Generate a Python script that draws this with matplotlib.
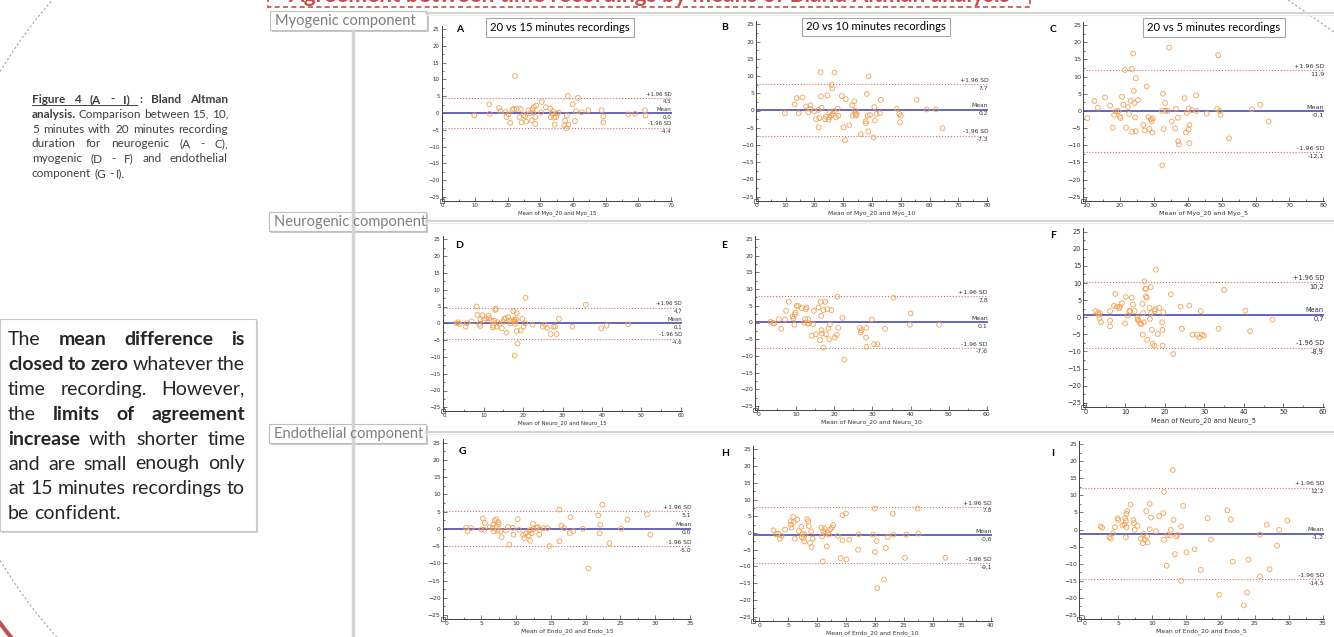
import matplotlib
matplotlib.use("Agg")
import matplotlib.pyplot as plt
from matplotlib import patches, transforms
from matplotlib.ticker import MultipleLocator, AutoMinorLocator

W, H = 1334, 637

# ---- data ----
# A : Myo 20 vs 15
a_x = [9.7, 14.3, 14.4, 17.3, 17.8, 19.3, 19.6, 20.2, 20.7, 21.4, 21.9, 22.2, 22.7, 23.6, 23.9,
       24.2, 24.8, 25.3, 25.6, 26.3, 26.8, 27.3, 27.6, 27.8, 28.0, 28.4, 28.4, 28.7, 30.2, 30.4,
       31.7, 33.0, 33.2, 33.5, 33.8, 34.2, 34.4, 34.8, 35.0, 35.5, 37.3, 37.6, 38.0, 38.1, 38.4,
       38.6, 39.9, 40.6, 40.9, 41.5, 42.7, 44.7, 48.8, 49.3, 49.3, 57.0, 59.1, 62.1, 62.3]
a_y = [-0.7, 2.6, -0.2, 1.5, 0.6, 0.3, -1.2, -0.4, -2.9, 1.0, 1.2, 11.0, 1.2, -1.2, 1.2,
       -2.8, -0.6, -1.0, -2.6, 0.8, 0.0, -2.2, 1.1, 0.2, 1.8, -1.2, -3.2, 2.2, 0.2, 3.3,
       1.7, 1.3, -1.2, -0.2, 0.5, -1.4, -3.5, -1.2, -0.2, 0.1, -3.7, -2.2, -4.5, -0.7, 5.0,
       -3.5, 2.6, -2.4, 0.5, 4.5, 0.2, 0.8, 0.8, -1.0, -2.8, -0.4, -0.2, 0.8, -0.7]
# B : Myo 20 vs 10
b_x = [9.8, 13.2, 13.9, 14.6, 15.9, 17.1, 17.9, 18.5, 18.7, 19.9, 20.6, 21.4, 21.5, 21.7, 22.2,
       22.3, 22.5, 23.7, 24.0, 24.5, 24.9, 25.2, 25.4, 25.8, 26.0, 26.2, 26.4, 26.8, 27.0, 27.5,
       28.1, 28.3, 29.5, 30.1, 30.6, 30.9, 32.1, 33.1, 33.3, 33.9, 34.1, 34.1, 34.5, 34.7, 36.1,
       37.8, 37.9, 38.2, 38.5, 38.7, 38.8, 39.3, 40.5, 40.8, 41.0, 41.6, 42.7, 43.1, 48.6, 49.5,
       49.7, 50.0, 55.5, 59.0, 62.2, 64.5]
b_y = [-0.8, 1.8, 3.6, -0.8, 3.8, 1.2, -0.5, 0.5, 1.5, -0.2, -2.5, 0.2, -4.9, -2.2, 11.1,
       4.1, 0.8, -2.5, -1.8, 4.4, -2.7, -2.0, -0.5, -1.5, 7.4, 6.4, -1.0, -0.2, 11.0, -2.0,
       0.5, -1.5, 4.2, -4.9, -8.6, 3.3, -4.3, 1.5, -1.5, 2.7, 0.0, -0.8, -1.5, -1.0, -6.9,
       -3.1, -3.7, 4.8, -1.5, -6.1, 9.9, -1.3, -7.8, 1.0, -2.9, -1.0, -0.8, 3.1, 0.5, -1.0,
       -3.4, -1.5, 3.1, 0.3, 0.3, -5.1]
# C : Myo 20 vs 5
c_x = [10.4, 12.5, 13.5, 15.6, 17.1, 17.9, 18.3, 18.8, 19.5, 20.0, 20.2, 20.6, 21.0, 21.5, 21.8,
       22.4, 22.7, 23.2, 23.5, 23.6, 23.9, 24.1, 24.3, 24.5, 24.7, 24.7, 25.3, 26.9, 27.3, 27.9,
       28.4, 28.7, 29.1, 29.4, 29.6, 29.7, 32.4, 32.5, 32.7, 32.9, 33.3, 33.5, 34.1, 34.5, 35.3,
       36.3, 36.5, 37.1, 37.2, 37.4, 39.1, 39.7, 39.5, 40.3, 40.3, 40.5, 40.5, 41.2, 42.5, 42.6,
       45.6, 48.7, 49.5, 49.7, 49.0, 52.2, 58.9, 61.4, 63.9]
c_y = [-2.1, 2.9, 0.9, 3.9, 1.5, -4.9, -1.2, -0.1, -0.1, -1.7, -2.1, 4.1, 1.8, 11.9, -4.9,
       1.1, -0.9, 2.9, 12.2, -6.1, 16.7, 5.8, 2.3, -1.9, 9.5, -5.9, 3.1, -4.1, -5.7, 7.1,
       -1.8, -5.3, -2.5, -3.0, -6.3, -2.2, 0.0, -15.9, 5.0, -5.3, 2.3, 0.0, 0.0, 18.4, -3.1,
       -5.1, 0.6, -2.0, -8.9, -9.8, 3.7, -0.6, -6.3, 0.7, -5.4, -4.1, -9.4, 0.2, 4.5, 0.0,
       -0.8, 0.6, 0.0, -1.2, 16.2, -8.0, 0.5, 1.8, -3.1]
# D : Neuro 20 vs 15
d_x = [3.1, 3.5, 3.8, 5.4, 5.7, 6.9, 8.2, 8.4, 8.9, 9.1, 9.2, 9.7, 10.1, 10.6, 11.2,
       11.4, 12.0, 12.3, 12.4, 12.7, 12.9, 13.1, 13.3, 13.5, 14.0, 14.6, 15.0, 15.2, 15.6, 15.8,
       16.2, 16.7, 16.8, 17.5, 17.5, 17.8, 17.9, 18.0, 17.9, 18.2, 18.4, 18.4, 18.6, 19.4, 19.8,
       20.1, 20.5, 20.6, 22.4, 25.0, 25.5, 26.1, 27.0, 27.7, 28.1, 28.5, 29.1, 32.5, 35.9, 39.8,
       41.2, 46.7]
d_y = [0.0, 0.3, -0.2, -1.0, 0.0, 0.6, 5.0, 2.5, -0.2, -0.8, 1.2, 2.4, 1.0, 1.4, 2.3,
       1.5, 0.8, -1.2, -0.7, 0.8, 4.0, 4.3, -1.0, 0.3, -0.2, -1.5, 0.5, 1.3, 1.5, -2.8,
       1.8, 0.8, 0.0, 3.6, 0.8, 1.1, -0.2, 0.5, -9.6, 1.2, 3.0, -2.3, -6.0, -2.1, 1.3,
       -1.0, 0.0, 7.6, -0.4, -1.0, -0.4, -1.4, -3.2, -1.0, -1.0, -3.2, 1.3, -1.0, 5.5, -1.5,
       -0.7, -0.3]
# E : Neuro 20 vs 10
e_x = [3.2, 3.8, 4.1, 5.4, 6.0, 7.0, 7.3, 8.0, 9.0, 9.2, 9.5, 9.6, 9.8, 10.1, 10.5,
       11.4, 12.0, 12.3, 12.5, 12.7, 12.9, 13.1, 13.3, 14.0, 14.4, 14.6, 15.1, 15.8, 16.2, 16.4,
       16.5, 16.6, 16.7, 17.1, 17.1, 17.6, 17.8, 18.1, 18.4, 18.6, 18.8, 19.2, 20.1, 20.6, 20.8,
       21.0, 22.1, 22.6, 26.7, 26.9, 27.1, 28.3, 28.4, 28.4, 29.8, 30.4, 31.3, 33.3, 35.5, 39.8,
       40.0, 47.5]
e_y = [0.2, -0.1, -0.3, 1.0, -1.9, 0.9, 3.5, 6.2, 1.8, 1.2, -0.7, 2.4, 3.0, 5.0, 4.9,
       4.3, -0.1, 1.0, 4.0, 4.5, -0.3, 1.0, -0.3, -4.0, -0.5, 3.5, -3.5, 4.5, -5.3, 6.2,
       2.0, -2.3, -3.3, 3.7, -7.5, 6.2, -3.5, 4.0, -1.8, -5.0, -0.6, 3.7, -4.5, -3.7, 7.7,
       -1.6, 1.4, -11.1, -1.6, -3.0, -2.3, -4.5, -7.3, -1.6, 0.9, -6.5, -6.5, -1.9, 7.4, -0.7,
       2.7, -0.7]
# F : Neuro 20 vs 5
f_x = [2.4, 3.0, 3.3, 3.4, 3.5, 3.8, 6.1, 6.1, 6.1, 7.1, 7.4, 7.9, 8.4, 8.6, 9.1,
       9.9, 10.1, 10.5, 11.0, 11.2, 11.6, 11.9, 12.3, 13.0, 13.1, 13.3, 13.7, 14.0, 14.3, 14.4,
       14.5, 14.7, 14.8, 15.0, 15.2, 15.2, 15.4, 15.5, 16.1, 16.2, 16.4, 16.5, 16.7, 16.9, 17.3,
       17.4, 17.5, 17.7, 18.2, 18.6, 19.3, 19.4, 19.4, 19.6, 21.5, 22.1, 24.0, 24.3, 26.2, 27.0,
       28.2, 28.7, 29.1, 29.5, 29.9, 33.6, 35.0, 40.4, 41.6, 47.3]
f_y = [1.8, 1.2, 0.7, -0.2, 1.2, -1.5, 1.8, -1.0, -2.7, 3.3, 6.8, 3.1, 2.6, 3.1, 4.1,
       -1.8, 5.9, 0.5, 1.8, 1.8, 5.7, 3.7, 1.8, -0.2, -0.7, -1.0, -1.8, -2.0, 3.9, -5.1,
       1.2, -1.5, 10.5, 8.3, 6.1, 8.3, 5.7, -6.6, 2.7, -0.5, 8.8, 1.2, -3.7, -7.8, -8.3,
       1.8, 2.3, 13.9, -4.9, 2.7, -1.5, -3.7, -8.3, 1.5, 6.7, -10.8, 3.1, -3.4, 3.4, -5.1,
       -5.1, -5.9, 1.8, -5.1, -5.4, -3.4, 8.0, 1.9, -4.1, -0.7]
# G : Endo 20 vs 15
g_x = [2.8, 3.0, 3.5, 5.0, 5.2, 5.4, 5.5, 6.2, 6.6, 6.7, 6.8, 6.9, 7.1, 7.2, 7.3,
       7.4, 7.5, 7.7, 7.9, 8.5, 8.8, 9.0, 9.5, 9.6, 10.2, 10.4, 11.0, 11.2, 11.4, 11.8,
       11.9, 12.0, 12.1, 12.2, 12.4, 12.5, 12.9, 13.1, 13.3, 13.4, 13.9, 14.5, 14.8, 16.2, 16.2,
       16.5, 16.9, 17.7, 17.8, 18.2, 19.6, 20.4, 21.8, 22.0, 22.1, 22.4, 23.4, 25.1, 26.0, 28.8,
       29.3]
g_y = [0.3, -0.7, 0.2, -0.2, 3.0, -0.3, 1.7, 0.5, 0.2, 1.3, -0.7, 2.4, 2.8, 0.7, -0.5,
       1.9, 1.3, -0.7, -2.4, -0.5, 0.5, -4.6, 0.3, -1.7, 2.8, -0.3, -1.7, -2.7, -1.3, -1.9,
       -0.5, -3.4, -0.3, -1.3, 1.5, 0.0, 0.3, 0.5, -1.7, -0.2, 0.2, 0.2, -5.0, 5.6, -3.6,
       0.9, 0.2, -1.2, 3.4, -0.7, 0.0, -11.5, 3.9, -1.3, 1.2, 7.0, -4.2, 0.0, 2.7, 4.2,
       -1.7]
# H : Endo 20 vs 10
h_x = [2.5, 3.0, 3.3, 3.6, 3.9, 4.5, 5.5, 5.5, 5.6, 5.9, 6.0, 6.2, 6.6, 6.9, 7.3,
       7.4, 7.5, 7.7, 7.8, 7.9, 8.3, 8.5, 8.6, 8.8, 9.0, 9.1, 9.3, 10.8, 10.9, 11.0,
       11.1, 11.3, 11.4, 11.7, 11.9, 12.1, 12.3, 12.6, 12.8, 13.6, 14.1, 14.4, 14.4, 15.0, 15.1,
       15.6, 17.2, 17.1, 19.7, 20.0, 20.0, 20.3, 20.4, 21.6, 21.9, 22.2, 23.1, 23.2, 25.2, 25.4,
       27.4, 27.5, 32.2]
h_y = [0.8, -0.4, -0.2, -1.7, -0.9, 1.0, 3.5, 2.5, 1.6, 4.8, 3.3, -1.7, 4.0, 0.5, 1.8,
       -1.2, -0.2, -1.5, -2.5, -0.5, 4.1, 3.5, 2.1, -3.0, 0.5, -4.2, -1.7, 1.6, -1.0, -8.5,
       0.5, 1.3, -0.2, -4.0, 0.1, -0.5, 1.1, 1.6, 2.3, -0.9, -7.5, -2.2, 5.3, 5.8, -7.9,
       -2.0, -0.4, -5.0, -0.5, 7.3, -5.7, -2.4, -16.5, -13.9, -4.5, -1.2, 5.8, -0.5, -7.4, -0.5,
       7.3, -0.2, -7.4]
# I : Endo 20 vs 5
i_x = [2.4, 2.6, 3.7, 3.9, 4.2, 4.5, 4.9, 5.0, 5.6, 5.9, 6.0, 6.1, 6.1, 6.2, 6.2,
       6.3, 6.8, 7.2, 7.3, 7.4, 7.8, 8.3, 8.6, 8.7, 8.9, 9.1, 9.2, 9.3, 9.6, 9.6,
       9.8, 10.5, 11.0, 11.6, 11.7, 11.7, 12.1, 12.2, 12.6, 12.7, 13.0, 13.1, 13.3, 13.5, 13.7,
       14.2, 14.2, 14.5, 15.0, 16.2, 17.1, 18.1, 18.6, 19.8, 21.0, 21.5, 21.8, 23.4, 23.9, 24.1,
       25.8, 25.8, 26.8, 27.2, 28.3, 28.6, 29.8]
i_y = [0.9, 0.5, -2.3, -2.7, -1.1, 0.7, 3.3, 2.8, 1.2, 1.5, 3.3, 2.5, -2.3, 4.6, 0.7,
       5.4, 7.3, 2.8, 1.9, -0.1, 1.1, -2.7, -4.0, -1.3, -3.0, 5.4, -2.1, -3.8, 7.5, 0.1,
       3.5, -0.5, 3.9, 4.8, 11.0, -3.0, -10.6, -1.6, -1.8, -0.1, 17.4, 2.8, -7.2, -2.1, -1.6,
       0.9, -15.0, 6.9, -6.7, -5.8, -11.8, 3.3, -2.9, -19.1, 5.6, 2.9, -9.4, -22.2, -18.4, -8.8,
       -1.5, -13.7, 1.4, -11.6, -4.7, -0.1, 2.6]

xs = [a_x, b_x, c_x, d_x, e_x, f_x, g_x, h_x, i_x]
ys = [a_y, b_y, c_y, d_y, e_y, f_y, g_y, h_y, i_y]
# upper limit, mean, lower limit
upper = [4.5, 7.7, 11.9, 4.7, 7.8, 10.2, 5.1, 7.8, 12.2]
means = [0.0, 0.2, -0.1, 0.1, 0.1, 0.7, 0.0, -0.6, -1.2]
lower = [-4.4, -7.3, -12.1, -4.6, -7.6, -8.9, -5.0, -9.1, -14.5]
letters = ["A", "B", "C", "D", "E", "F", "G", "H", "I"]
xlabels = ["Mean of Myo_20 and Myo_15", "Mean of Myo_20 and Myo_10", "Mean of Myo_20 and Myo_5",
           "Mean of Neuro_20 and Neuro_15", "Mean of Neuro_20 and Neuro_10", "Mean of Neuro_20 and Neuro_5",
           "Mean of Endo_20 and Endo_15", "Mean of Endo_20 and Endo_10", "Mean of Endo_20 and Endo_5"]
col_titles = ["20 vs 15 minutes recordings", "20 vs 10 minutes recordings", "20 vs 5 minutes recordings"]
row_titles = ["Myogenic component", "Neurogenic component", "Endothelial component"]
poster_title = "Agreement between time recordings by means of Bland Altman analysis"

caption_lines = [
    [("Figure 4 (A - I) : Bland Altman", "bold")],
    [("analysis.", "bold"), ("Comparison between 15, 10,", "normal")],
    [("5 minutes with 20 minutes recording", "normal")],
    [("duration for neurogenic (A - C),", "normal")],
    [("myogenic (D - F) and endothelial", "normal")],
    [("component (G - I).", "normal")],
]
note_lines = [
    [("The", "normal"), ("mean difference is", "bold")],
    [("closed to zero", "bold"), ("whatever the", "normal")],
    [("time recording. However,", "normal")],
    [("the", "normal"), ("limits of agreement", "bold")],
    [("increase", "bold"), ("with shorter time", "normal")],
    [("and are small enough only", "normal")],
    [("at 15 minutes recordings to", "normal")],
    [("be confident.", "normal")],
]

# ---- layout (pixel positions from the top-left corner) ----
# spine x, (tick value, px), (tick value, px), px of +25, px of -25, x max, x step, font size
layout = [
    (441.7, (0, 442.7), (70, 670.7), 29.0, 197.0, 70.3, 10, 3.9),
    (756.0, (0, 756.7), (80, 987.3), 24.3, 196.7, 80.3, 10, 4.3),
    (1083.3, (10, 1086.0), (80, 1323.3), 25.0, 196.7, 80.3, 10, 4.6),
    (442.7, (0, 444.3), (60, 680.7), 239.3, 407.3, 60.3, 10, 3.9),
    (755.0, (0, 758.3), (60, 986.7), 239.0, 406.0, 60.3, 10, 4.4),
    (1083.3, (0, 1086.0), (60, 1322.7), 231.7, 402.7, 60.3, 10, 4.8),
    (442.7, (0, 446.7), (35, 690.0), 442.7, 615.0, 35.2, 5, 4.3),
    (753.3, (0, 759.0), (40, 990.7), 449.3, 616.7, 40.2, 5, 4.3),
    (1079.3, (0, 1084.3), (35, 1322.7), 444.0, 615.0, 35.2, 5, 4.4),
]
letter_pos = [(460, 30), (725, 28), (1053, 30), (459, 245), (724, 246), (1053, 236),
              (462, 451), (725, 453), (1053, 453)]
col_title_pos = [(560, 27.5), (876, 27), (1214, 27.5)]
row_box = [(270, 11, 427, 30), (269, 212, 426, 231), (269, 424, 426, 443)]

RED = "#c0504d"
fig = plt.figure(figsize=(W / 100, H / 100), dpi=100)
px = transforms.Affine2D().scale(1 / W, -1 / H).translate(0, 1) + fig.transFigure

# decorations behind everything
fig.add_artist(patches.Arc((411, 316), 956, 956, theta1=125, theta2=235, transform=px,
                           color="#a0a0a0", lw=0.8, ls=(0, (2, 2))))
fig.add_artist(patches.Arc((420, 300), 1060, 1060, theta1=140, theta2=160, transform=px,
                           color=RED, lw=3))
fig.add_artist(plt.Line2D([1288, 1334], [0, 32], transform=px, color="#a0a0a0",
                          lw=0.8, ls=(0, (2, 2))))
fig.add_artist(patches.Rectangle((268, -30), 762, 37, transform=px, fill=False,
                                 edgecolor=RED, lw=1.2, ls=(0, (3, 2))))
# the poster title is cut by the top edge, as in the source picture
fig.text(649, 1.5, poster_title, transform=px, ha="center", va="baseline", fontsize=16.3,
         fontweight="bold", color=RED, family="Lato")

# row separators and vertical rule
for yy in [13, 221, 432]:
    fig.add_artist(plt.Line2D([426, W], [yy, yy], transform=px, color="#d4d4d4", lw=1.5))
    fig.add_artist(plt.Line2D([426, W], [yy + 2, yy + 2], transform=px, color="#ececec", lw=0.8))
fig.add_artist(plt.Line2D([352.5, 352.5], [31, H], transform=px, color="#d4d4d4", lw=2.5))

for (l, t, r, b), name in zip(row_box, row_titles):
    fig.add_artist(patches.Rectangle((l + 1.5, t + 1.5), r - l, b - t, transform=px,
                                     facecolor="#c8c8c8", edgecolor="none"))
    fig.add_artist(patches.Rectangle((l, t), r - l, b - t, transform=px,
                                     facecolor="white", edgecolor="#bfbfbf", lw=0.8))
    fig.text(l + 5, (t + b) / 2 + 0.5, name, transform=px, ha="left", va="center",
             fontsize=10.5, color="#7f7f7f", family="Lato")


def fmt(v):
    return f"{v:.1f}".replace(".", ",")


for k in range(9):
    spine, (da, pa), (db, pb), y25, ym25, xmax, xstep, fs = layout[k]
    sx = (pb - pa) / (db - da)
    x0 = da + (spine - pa) / sx
    sy = (ym25 - y25) / 50
    ylo, yhi = -26.2, 26
    left, right = spine, pa + (xmax - da) * sx
    top, bottom = y25 - (yhi - 25) * sy, ym25 + (-25 - ylo) * sy
    ax = fig.add_axes([left / W, 1 - bottom / H, (right - left) / W, (bottom - top) / H])
    ax.patch.set_alpha(0)
    ax.set_xlim(x0, xmax)
    ax.set_ylim(ylo, yhi)
    for s in ["top", "right"]:
        ax.spines[s].set_visible(False)
    for s in ["left", "bottom"]:
        ax.spines[s].set_color("#404040")
        ax.spines[s].set_linewidth(0.7)
    ax.xaxis.set_major_locator(MultipleLocator(xstep))
    ax.yaxis.set_major_locator(MultipleLocator(5))
    ax.xaxis.set_minor_locator(AutoMinorLocator(2))
    ax.yaxis.set_minor_locator(AutoMinorLocator(2))
    ax.tick_params(which="both", direction="in", color="#404040", width=0.5,
                   labelsize=fs, labelcolor="#333333", pad=1.5)
    ax.tick_params(which="major", length=3)
    ax.tick_params(which="minor", length=1.5)
    ax.set_xlabel(xlabels[k], fontsize=fs, color="#333333", labelpad=1.5)
    ax.plot([0], [0], marker="s", ms=2.5, mfc="white", mec="#404040", mew=0.5,
            transform=ax.transAxes, clip_on=False)

    ax.axhline(upper[k], color="#c87070", lw=0.8, ls=":")
    ax.axhline(lower[k], color="#c87070", lw=0.8, ls=":")
    ax.axhline(means[k], color="#4b4bb5", lw=1.2)
    ax.scatter(xs[k], ys[k], s=12, facecolors="none", edgecolors="#f2a154", linewidths=0.6, zorder=3)

    for val, name in [(upper[k], "+1.96 SD"), (means[k], "Mean"), (lower[k], "-1.96 SD")]:
        ax.text(xmax, val + 0.4, name, ha="right", va="bottom", fontsize=fs, color="#333333")
        ax.text(xmax, val - 0.4, fmt(val), ha="right", va="top", fontsize=fs, color="#333333")

    lx, ly = letter_pos[k]
    fig.text(lx, ly, letters[k], transform=px, ha="center", va="center", fontsize=7.5,
             fontweight="bold", color="black", family="Lato")

for (cx, cy), name in zip(col_title_pos, col_titles):
    fig.text(cx, cy, name, transform=px, ha="center", va="center", fontsize=8.1,
             color="black", family="Lato",
             bbox=dict(boxstyle="square,pad=0.35", facecolor="white", edgecolor="#a6a6a6", lw=0.8))

renderer = fig.canvas.get_renderer()


def justify(lines, x_left, x_right, y_first, dy, size, color, underline_words=0):
    space = size * 100 / 72 * 0.25
    for i, line in enumerate(lines):
        words = []
        for seg, weight in line:
            for w in seg.split():
                t = fig.text(0, y_first + i * dy, w, transform=px, ha="left", va="baseline",
                             fontsize=size, fontweight=weight, color=color, family="Lato")
                words.append((t, t.get_window_extent(renderer).width))
        total = sum(w for _, w in words)
        if i == len(lines) - 1 or len(words) < 2:
            gap = space
        else:
            gap = max((x_right - x_left - total) / (len(words) - 1), space * 0.6)
        x = x_left
        starts = []
        for t, w in words:
            t.set_x(x)
            starts.append(x)
            x += w + gap
        if i == 0 and underline_words:
            x_end = starts[underline_words] - 2
            fig.add_artist(plt.Line2D([x_left, x_end], [y_first + 1.5, y_first + 1.5],
                                      transform=px, color=color, lw=0.7))


justify(caption_lines, 32, 228, 103, 14.8, 8.5, "#404040", underline_words=5)

fig.add_artist(patches.Rectangle((1.5, 320.5), 256, 212, transform=px,
                                 facecolor="#d0d0d0", edgecolor="none"))
fig.add_artist(patches.Rectangle((0, 319), 256, 212, transform=px,
                                 facecolor="white", edgecolor="#c8c8c8", lw=0.8))
justify(note_lines, 8, 245, 345, 24.9, 14, "#262626")

fig.savefig("out.png", dpi=100)
